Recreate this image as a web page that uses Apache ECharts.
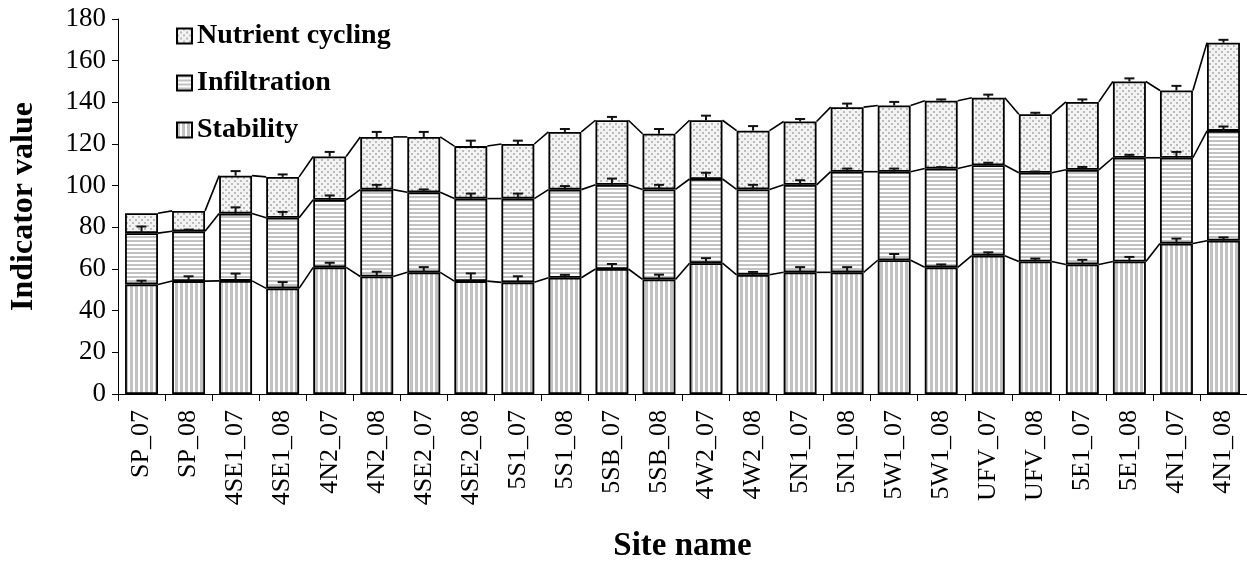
<!DOCTYPE html>
<html>
<head>
<meta charset="utf-8">
<script src="https://cdn.jsdelivr.net/npm/echarts@6/dist/echarts.min.js"></script>
<style>
  html, body { margin: 0; padding: 0; background: #fff; }
  #chart { width: 1247px; height: 568px; }
</style>
</head>
<body>
<div id="chart"></div>
<script>
// Site names (year-suffixed sampling campaigns)
const sites = ['SP_07','SP_08','4SE1_07','4SE1_08','4N2_07','4N2_08','4SE2_07','4SE2_08',
  '5S1_07','5S1_08','5SB_07','5SB_08','4W2_07','4W2_08','5N1_07','5N1_08',
  '5W1_07','5W1_08','UFV_07','UFV_08','5E1_07','5E1_08','4N1_07','4N1_08'];

// Component indicator values (stacked)
const stability = [52.6,54.2,54.3,50.7,60.8,56.4,58.4,54.2,53.6,55.8,60.0,55.0,
  62.8,57.2,58.4,58.4,64.2,60.8,66.4,63.6,62.2,63.6,72.2,73.6];
const infiltration = [24.6,23.9,32.3,33.9,32.4,41.7,38.4,39.6,40.2,42.3,40.4,43.2,
  40.4,41.0,42.0,48.3,42.5,47.4,43.4,42.6,45.4,49.8,41.2,52.7];
const nutrient = [9.6,9.8,18.2,19.6,20.8,25.3,26.6,25.2,26.2,27.7,31.0,26.7,
  28.2,28.2,30.4,31.0,31.8,32.6,32.4,28.1,32.6,36.6,32.3,42.3];

// Standard errors (plotted upward from each segment top)
const stabilityErr = [1.8,2.3,3.5,3.0,2.2,2.3,2.5,3.7,2.9,1.4,2.4,2.3,
  2.4,1.4,2.5,2.5,3.0,1.4,1.6,1.4,2.2,2.2,2.4,1.6];
const infiltrationErr = [3.2,0.8,3.0,2.8,2.1,2.3,1.4,2.4,2.4,1.7,3.0,2.2,
  3.0,2.2,2.2,1.5,1.5,0.7,1.2,0.6,1.4,1.4,2.8,2.1];
const nutrientErr = [0,0,2.2,1.2,2.2,2.4,2.4,2.6,1.6,1.4,1.6,2.3,
  2.2,2.2,1.2,1.7,1.7,0.6,1.5,0.7,1.2,1.5,2.2,1.4];

const yTicks = { min: 0, max: 180, interval: 20 };

// ---- fill patterns ----
function makePattern(w, h, bg, draw) {
  const c = document.createElement('canvas');
  c.width = w; c.height = h;
  const g = c.getContext('2d');
  g.fillStyle = bg;
  g.fillRect(0, 0, w, h);
  draw(g);
  return { image: c, repeat: 'repeat' };
}
const vStripes = makePattern(5, 5, '#ffffff', g => { g.fillStyle = '#c2c2c2'; g.fillRect(0, 0, 3, 5); });
const hStripes = makePattern(4, 4, '#ffffff', g => { g.fillStyle = '#c2c2c2'; g.fillRect(0, 0, 4, 2); });
const dots = makePattern(6, 6, '#f3f3f3', g => {
  g.fillStyle = '#bcbcbc';
  g.fillRect(0, 0, 2, 2);
  g.fillRect(3, 3, 2, 2);
});

// cumulative tops of each layer
const topS = stability.slice();
const topI = stability.map((v, i) => v + infiltration[i]);
const topN = topI.map((v, i) => v + nutrient[i]);

const BAR_FRAC = 0.7;
const FONT = 'Liberation Serif';

// connector lines between adjacent stacks
const connectorData = [];
for (let i = 0; i < sites.length - 1; i++) {
  connectorData.push([i, topS[i], topS[i + 1], topI[i], topI[i + 1], topN[i], topN[i + 1]]);
}

function errData(tops, errs) {
  return tops.map((t, i) => [i, t, errs[i]]);
}

function renderConnector(params, api) {
  const i = api.value(0);
  const band = api.size([1, 0])[0];
  const half = band * BAR_FRAC / 2;
  const children = [];
  for (let k = 0; k < 3; k++) {
    const a = api.coord([i, api.value(1 + 2 * k)]);
    const b = api.coord([i + 1, api.value(2 + 2 * k)]);
    children.push({
      type: 'line',
      shape: { x1: a[0] + half, y1: a[1], x2: b[0] - half, y2: b[1] },
      style: { stroke: '#000', lineWidth: 1.6 }
    });
  }
  return { type: 'group', children };
}

function renderErr(params, api) {
  const err = api.value(2);
  if (!err) return null;
  const p0 = api.coord([api.value(0), api.value(1)]);
  const p1 = api.coord([api.value(0), api.value(1) + err]);
  const cap = 5;
  const st = { stroke: '#111', lineWidth: 2 };
  return {
    type: 'group',
    children: [
      { type: 'line', shape: { x1: p0[0], y1: p0[1], x2: p1[0], y2: p1[1] }, style: st },
      { type: 'line', shape: { x1: p1[0] - cap, y1: p1[1], x2: p1[0] + cap, y2: p1[1] }, style: st }
    ]
  };
}

function barSeries(name, data, fill) {
  return {
    name, type: 'bar', stack: 'total', data,
    barCategoryGap: '30%',
    itemStyle: { color: fill, borderColor: '#000', borderWidth: 1.8 },
    emphasis: { disabled: true },
    z: 2
  };
}

function errSeries(tops, errs) {
  return {
    type: 'custom', renderItem: renderErr, data: errData(tops, errs),
    encode: { x: 0, y: [1] }, z: 5, silent: true, clip: false
  };
}

const chart = echarts.init(document.getElementById('chart'), null, { renderer: 'canvas' });
chart.setOption({
  animation: false,
  backgroundColor: '#fff',
  grid: { left: 116, top: 19, width: 1135, height: 383, containLabel: false },
  legend: {
    data: ['Nutrient cycling', 'Infiltration', 'Stability'],
    orient: 'vertical', left: 171, top: 17,
    itemWidth: 15, itemHeight: 15, itemGap: 19,
    icon: 'rect',
    textStyle: { fontFamily: FONT, fontWeight: 'bold', fontSize: 28, color: '#000' }
  },
  xAxis: {
    type: 'category', data: sites,
    name: 'Site name', nameLocation: 'middle', nameGap: 136,
    nameTextStyle: { fontFamily: FONT, fontWeight: 'bold', fontSize: 33, color: '#000' },
    axisLine: { lineStyle: { color: '#000', width: 1 } },
    axisTick: { show: true, interval: 0, alignWithLabel: false, length: 7, lineStyle: { color: '#000' } },
    axisLabel: { interval: 0, rotate: 90, margin: 16, fontFamily: FONT, fontSize: 26, color: '#000' }
  },
  yAxis: {
    type: 'value', min: yTicks.min, max: yTicks.max, interval: yTicks.interval,
    name: 'Indicator value', nameLocation: 'middle', nameGap: 78,
    nameTextStyle: { fontFamily: FONT, fontWeight: 'bold', fontSize: 32, color: '#000' },
    splitLine: { show: false },
    axisLine: { show: true, lineStyle: { color: '#000', width: 1 } },
    axisTick: { show: true, length: 6, lineStyle: { color: '#000' } },
    axisLabel: { margin: 12, fontFamily: FONT, fontSize: 27, color: '#000' }
  },
  series: [
    barSeries('Stability', stability, vStripes),
    barSeries('Infiltration', infiltration, hStripes),
    barSeries('Nutrient cycling', nutrient, dots),
    {
      type: 'custom', renderItem: renderConnector, data: connectorData,
      encode: { x: 0, y: [1, 2, 3, 4, 5, 6] }, z: 4, silent: true, clip: false
    },
    errSeries(topS, stabilityErr),
    errSeries(topI, infiltrationErr),
    errSeries(topN, nutrientErr)
  ]
});
</script>
</body>
</html>
